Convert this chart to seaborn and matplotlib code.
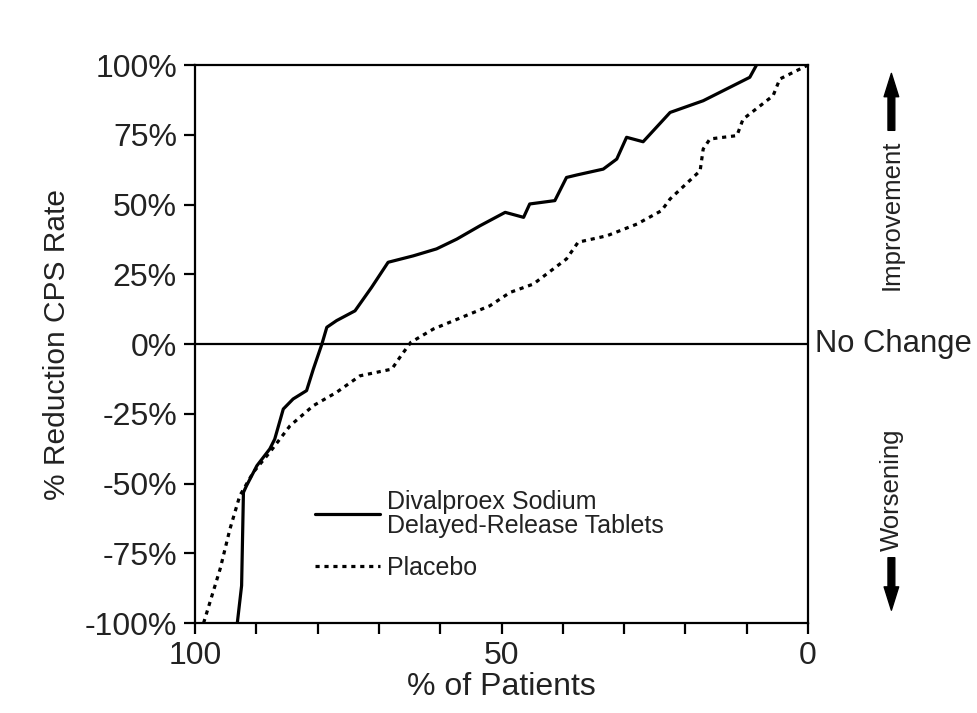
import matplotlib
matplotlib.use("Agg")
import matplotlib.pyplot as plt
import seaborn as sns
import pandas as pd
from matplotlib.patches import FancyArrowPatch

# % of patients (x) and % reduction in CPS rate (y)
divalproex_pct = [93.1, 92.4, 92.1, 91.6, 89.9, 87.8, 87.0, 85.6, 84.0, 81.8,
                  80.7, 79.3, 78.5, 76.9, 73.9, 71.2, 68.5, 64.4, 60.6, 57.3,
                  53.5, 49.4, 46.4, 45.4, 41.3, 39.4, 37.7, 33.4, 31.2, 29.6,
                  26.9, 22.5, 17.1, 9.5, 8.4]
divalproex_red = [-100, -86.6, -53.2, -50.8, -43.6, -37.6, -34.1, -23.3, -19.7, -16.7,
                  -9.0, 0.0, 6.0, 8.4, 11.9, 20.3, 29.3, 31.6, 34.1, 37.6,
                  42.4, 47.2, 45.4, 50.2, 51.4, 59.7, 60.6, 62.7, 66.3, 74.1,
                  72.5, 83.0, 87.2, 95.6, 100]

placebo_pct = [98.6, 95.9, 94.3, 92.7, 90.5, 87.8, 84.5, 80.7, 76.9, 73.1,
               67.9, 66.4, 64.8, 61.1, 51.9, 48.6, 44.8, 39.4, 37.5, 32.8,
               27.9, 23.9, 22.5, 17.6, 17.1, 16.0, 11.6, 10.6, 5.7, 4.6, 0.0]
placebo_red = [-100, -80.6, -66.3, -54.4, -46.0, -38.8, -29.3, -22.1, -17.3, -11.4,
               -9.0, -4.2, 0.6, 5.4, 13.7, 18.5, 21.5, 30.5, 36.5, 38.8,
               43.0, 47.8, 52.0, 62.1, 69.9, 73.5, 74.7, 80.6, 89.0, 95.0, 100]

y_ticks = [-100, -75, -50, -25, 0, 25, 50, 75, 100]
x_ticks = [100, 90, 80, 70, 60, 50, 40, 30, 20, 10, 0]
x_labels = ["100", "", "", "", "", "50", "", "", "", "", "0"]

df_div = pd.DataFrame({"pct": divalproex_pct, "red": divalproex_red})
df_pla = pd.DataFrame({"pct": placebo_pct, "red": placebo_red})

sns.set_style("ticks")
plt.rcParams['font.family'] = ['Liberation Sans', 'DejaVu Sans']

fig = plt.figure(figsize=(9.78, 7.13), dpi=100)
ax = fig.add_axes([0.1994, 0.1262, 0.6268, 0.7826])

sns.lineplot(data=df_div, x="pct", y="red", sort=False, estimator=None,
             color="black", linewidth=2.3, ax=ax,
             label="Divalproex Sodium\nDelayed-Release Tablets")
sns.lineplot(data=df_pla, x="pct", y="red", sort=False, estimator=None,
             color="black", linewidth=2.3, linestyle=(0, (1.3, 1.5)), ax=ax,
             label="Placebo")

ax.axhline(0, color="black", linewidth=1.6, zorder=1)

ax.set_xlim(100, 0)
ax.set_ylim(-100, 100)
ax.set_xticks(x_ticks)
ax.set_xticklabels(x_labels)
ax.set_yticks(y_ticks)
ax.set_yticklabels([f"{v}%" for v in y_ticks])
ax.tick_params(axis="both", labelsize=23, length=8, width=1.6, color="black",
               labelcolor="#222222")
ax.tick_params(axis="x", pad=5)
ax.tick_params(axis="y", pad=5)
for s in ax.spines.values():
    s.set_linewidth(1.6)
    s.set_color("black")
    s.set_visible(True)

ax.set_xlabel("% of Patients", fontsize=23, color="#222222", labelpad=1)
ax.set_ylabel("% Reduction CPS Rate", fontsize=21.5, color="#222222", labelpad=10)

leg = ax.legend(loc="upper left", bbox_to_anchor=(0.195, 0.239), frameon=False,
                fontsize=18, borderpad=0, borderaxespad=0, handlelength=2.6,
                handletextpad=0.3, labelspacing=0.72)
for t in leg.get_texts():
    t.set_linespacing(1.0)
    t.set_color("#222222")

# right-hand annotations
ax.text(1.012, 0.5, "No Change", transform=ax.transAxes, ha="left", va="center",
        fontsize=22.3, color="#222222", clip_on=False)
ax.text(1.136, 0.731, "Improvement", transform=ax.transAxes, rotation=90,
        ha="center", va="center", fontsize=18.5, color="#222222", clip_on=False)
ax.text(1.136, 0.238, "Worsening", transform=ax.transAxes, rotation=90,
        ha="center", va="center", fontsize=18.5, color="#222222", clip_on=False)

for y0, y1 in [(0.878, 0.99), (0.122, 0.018)]:
    arr = FancyArrowPatch((1.136, y0), (1.136, y1), transform=ax.transAxes,
                          arrowstyle="simple,head_length=1.2,head_width=0.75,tail_width=0.35",
                          mutation_scale=14, color="black", clip_on=False)
    ax.add_patch(arr)

fig.savefig("out.png", dpi=100)
